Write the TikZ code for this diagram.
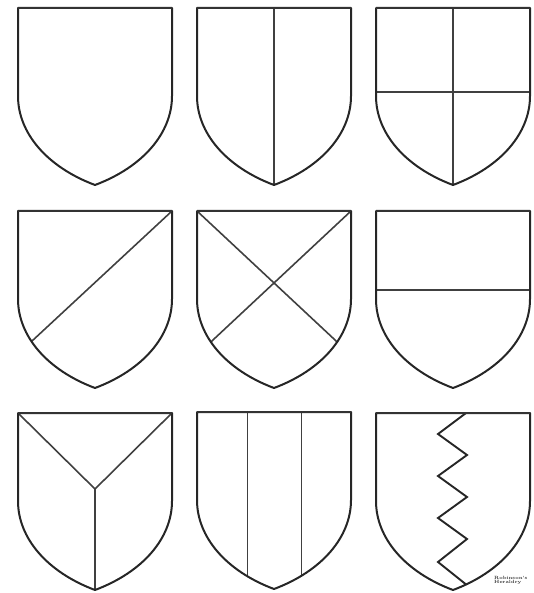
\documentclass[tikz,border=0pt]{standalone}
\begin{document}
\begin{tikzpicture}[x=1pt,y=-1pt,
  shieldpath/.style={insert path={(0,0) -- (154,0) -- (154,88) .. controls (154,125) and (125,159) .. (77,177) .. controls (29,159) and (0,125) .. (0,88) -- cycle}},
  outline/.style={draw=black!85, line width=2pt, line join=round},
  topedge/.style={draw=black!80, line width=2.6pt},
  division/.style={draw=black!75, line width=1.6pt},
  zig/.style={draw=black!85, line width=1.9pt, line join=miter},
  credit/.style={font=\fontsize{4.6}{4.4}\selectfont\bfseries, align=left, anchor=west, inner sep=0pt, text=black!80}]
\useasboundingbox (0,0) rectangle (534,593);
% Row 1
\begin{scope}[shift={(18,8)}]
  \draw[outline, shieldpath];
  \draw[topedge] (0,0) -- (154,0);
\end{scope}
\begin{scope}[shift={(197,8)}]
  \begin{scope}\clip[shieldpath]; \draw[division] (77,0) -- (77,190); \end{scope}
  \draw[outline, shieldpath];
  \draw[topedge] (0,0) -- (154,0);
\end{scope}
\begin{scope}[shift={(376,8)}]
  \begin{scope}\clip[shieldpath];
    \draw[division] (77,0) -- (77,190);
    \draw[division] (0,84) -- (154,84);
  \end{scope}
  \draw[outline, shieldpath];
  \draw[topedge] (0,0) -- (154,0);
\end{scope}
% Row 2
\begin{scope}[shift={(18,211)}]
  \begin{scope}\clip[shieldpath]; \draw[division] (154,0) -- (-14,156); \end{scope}
  \draw[outline, shieldpath];
  \draw[topedge] (0,0) -- (154,0);
\end{scope}
\begin{scope}[shift={(197,211)}]
  \begin{scope}\clip[shieldpath];
    \draw[division] (0,0) -- (168,157);
    \draw[division] (154,0) -- (-14,157);
  \end{scope}
  \draw[outline, shieldpath];
  \draw[topedge] (0,0) -- (154,0);
\end{scope}
\begin{scope}[shift={(376,211)}]
  \begin{scope}\clip[shieldpath]; \draw[division] (0,79) -- (154,79); \end{scope}
  \draw[outline, shieldpath];
  \draw[topedge] (0,0) -- (154,0);
\end{scope}
% Row 3
\begin{scope}[shift={(18,413)}]
  \begin{scope}\clip[shieldpath];
    \draw[division] (0,0) -- (77,76) -- (154,0);
    \draw[division] (77,76) -- (77,190);
  \end{scope}
  \draw[outline, shieldpath];
  \draw[topedge] (0,0) -- (154,0);
\end{scope}
\begin{scope}[shift={(197,412)}]
  \begin{scope}\clip[shieldpath];
    \draw[division] (50.5,0) -- (50.5,190);
    \draw[division] (104.5,0) -- (104.5,190);
  \end{scope}
  \draw[outline, shieldpath];
  \draw[topedge] (0,0) -- (154,0);
\end{scope}
\begin{scope}[shift={(376,413)}]
  \begin{scope}\clip[shieldpath];
    \draw[zig] (90,0) -- (62,21) -- (91,42) -- (62,63) -- (91,84) -- (62,105) -- (91,126) -- (62,149) -- (92,173);
  \end{scope}
  \draw[outline, shieldpath];
  \draw[topedge] (0,0) -- (154,0);
\end{scope}
\node[credit] (credit) at (494,580.5) {Robinson's\\Heraldry};
\end{tikzpicture}
\end{document}
